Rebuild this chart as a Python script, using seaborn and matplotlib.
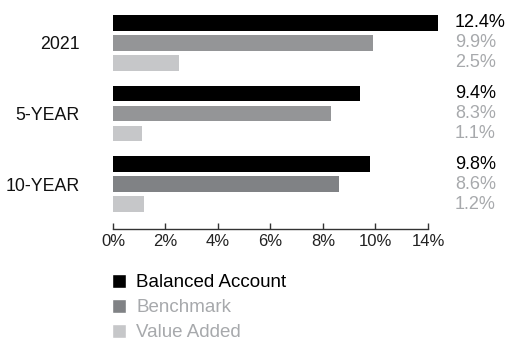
import matplotlib
matplotlib.use("Agg")
import matplotlib.pyplot as plt
import matplotlib.transforms as mtransforms
from matplotlib.patches import Patch
import pandas as pd
import seaborn as sns

# Returns by period
periods = ["2021", "5-YEAR", "10-YEAR"]
series = ["Balanced Account", "Benchmark", "Value Added"]
balanced = [12.4, 9.4, 9.8]
benchmark = [9.9, 8.3, 8.6]
value_added = [2.5, 1.1, 1.2]

tick_values = [0, 2, 4, 6, 8, 10, 12]
tick_labels = ["0%", "2%", "4%", "6%", "8%", "10%", "14%"]

series_colors = {"Balanced Account": "#000000",
                 "Benchmark": "#939598",
                 "Value Added": "#c6c7c9"}
benchmark_10y_color = "#808285"
label_colors = ["#000000", "#a7a9ac", "#a7a9ac"]

df = pd.DataFrame({
    "period": periods * 3,
    "series": [s for s in series for _ in periods],
    "value": balanced + benchmark + value_added,
})

sns.set_theme(style="white")
plt.rcParams["font.family"] = ["Liberation Sans", "DejaVu Sans"]

fig = plt.figure(figsize=(5.11, 3.45), dpi=100)
ax = fig.add_axes([0.2211, 0.3348, 0.637, 0.6632])

sns.barplot(data=df, y="period", x="value", hue="series", order=periods,
            hue_order=series, palette=series_colors, orient="h",
            width=0.851, gap=0.215, legend=False, ax=ax)

# Ten-year benchmark is drawn in a deeper grey
ax.containers[1].patches[2].set_facecolor(benchmark_10y_color)
for cont in ax.containers:
    for p in cont.patches:
        p.set_edgecolor("none")
        p.set_clip_on(False)

ax.set_xlim(0, 12.4)
ax.set_ylim(2.645, -0.6)
ax.set_xlabel("")
ax.set_ylabel("")

ax.set_xticks(tick_values)
ax.set_xticklabels(tick_labels)
ax.tick_params(axis="x", direction="in", length=4, width=1, color="#333333",
               labelsize=12, labelcolor="#222222", pad=3, bottom=True)
ax.tick_params(axis="y", length=0, pad=24, labelsize=12.8, labelcolor="#111111")
for lbl in ax.get_yticklabels():
    if lbl.get_text() == "2021":
        lbl.set_fontweight("medium")

for side in ["top", "right", "left"]:
    ax.spines[side].set_visible(False)
ax.spines["bottom"].set_bounds(0, 12)
ax.spines["bottom"].set_color("#333333")
ax.spines["bottom"].set_linewidth(1)

# Value labels at the right of each bar row
trans = mtransforms.blended_transform_factory(fig.transFigure, ax.transData)
for si, cont in enumerate(ax.containers):
    vals = [balanced, benchmark, value_added][si]
    for pi, p in enumerate(cont.patches):
        yc = p.get_y() + p.get_height() / 2
        ax.text(0.890, yc, f"{vals[pi]:.1f}%", transform=trans,
                ha="left", va="center", fontsize=13,
                color=label_colors[si])

handles = [Patch(facecolor=series_colors["Balanced Account"]),
           Patch(facecolor=benchmark_10y_color),
           Patch(facecolor=series_colors["Value Added"])]
fig.legend(handles, series, loc="upper left",
           bbox_to_anchor=(112 / 511, 1 - 274 / 345), frameon=False,
           fontsize=13.5, handlelength=0.75, handleheight=0.75,
           handletextpad=0.55, labelspacing=0.4, borderpad=0,
           borderaxespad=0, labelcolor=label_colors)

fig.savefig("out.png", dpi=100)
